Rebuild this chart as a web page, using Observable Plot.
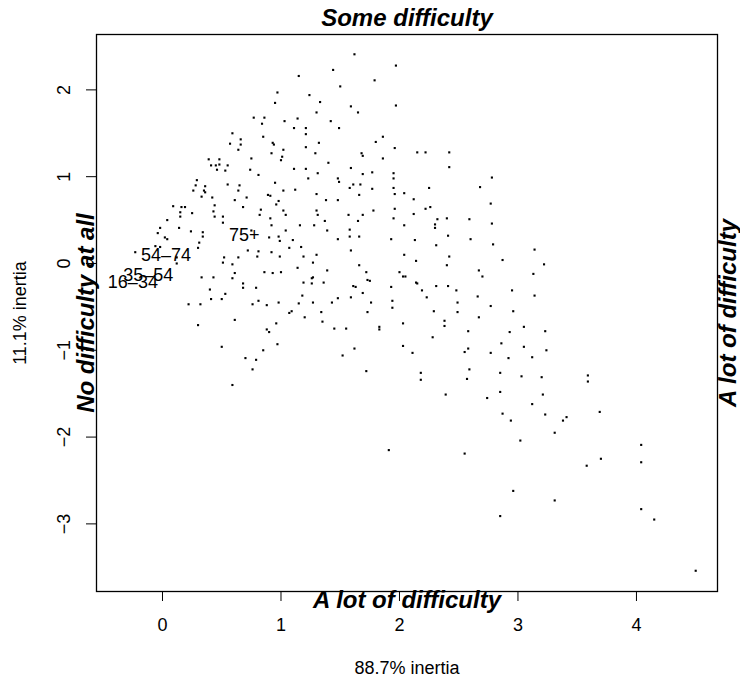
<!DOCTYPE html>
<html><head><meta charset="utf-8">
<script src="https://cdn.jsdelivr.net/npm/d3@7"></script>
<script src="https://cdn.jsdelivr.net/npm/@observablehq/plot@0.6"></script>
<style>
body{margin:0;background:#fff;}
#chart svg{display:block;}
</style></head><body><div id="chart"></div>
<script>
// column (row-profile) points: [dim1, dim2]
const ptsUpperLeft = [[0.97,1.97],[0.95,1.85],[0.77,1.68],[0.86,1.68],[0.84,1.61],[1.03,1.64],[1.11,1.56],[0.59,1.50],[0.85,1.46],[0.66,1.43],[0.57,1.38],[0.66,1.37],[0.93,1.39],[0.94,1.37],[0.64,1.31],[1.02,1.31],[0.92,1.27],[1.01,1.23],[1.00,1.19],[0.75,1.21],[0.39,1.20],[0.48,1.20],[0.41,1.13],[0.45,1.13],[0.48,1.14],[0.55,1.13],[0.46,1.08],[0.53,1.07],[0.74,1.08],[1.11,1.09],[0.81,1.02],[0.29,0.96],[0.28,0.90],[0.36,0.89],[0.55,0.91],[0.65,0.90],[0.95,0.93],[0.26,0.84],[0.35,0.84],[0.36,0.82],[0.64,0.84],[1.02,0.84],[1.12,0.85],[0.33,0.77],[0.42,0.76],[0.89,0.79],[0.91,0.78],[0.71,0.76],[0.61,0.73],[0.98,0.72],[0.96,0.68],[0.09,0.66],[0.16,0.65],[0.19,0.65],[0.44,0.67],[0.68,0.65],[0.83,0.62],[1.02,0.61],[0.15,0.59],[0.25,0.58],[0.43,0.60],[0.82,0.56],[1.04,0.56]];
const ptsUpperMid = [[1.62,2.41],[1.97,2.28],[1.44,2.23],[1.15,2.16],[1.79,2.11],[1.50,2.04],[1.24,1.94],[1.33,1.86],[1.59,1.81],[1.97,1.82],[1.30,1.74],[1.65,1.74],[1.14,1.67],[1.42,1.64],[1.21,1.56],[1.49,1.56],[1.21,1.49],[1.86,1.46],[1.80,1.40],[1.32,1.39],[1.21,1.34],[1.96,1.33],[1.29,1.27],[1.68,1.27],[1.69,1.24],[2.15,1.28],[2.22,1.28],[2.42,1.28],[1.86,1.21],[1.40,1.16],[1.21,1.09],[1.59,1.10],[2.42,1.11],[1.31,1.04],[1.69,1.03],[1.77,1.05],[1.95,1.04],[2.78,0.99],[1.23,0.98],[1.48,0.98],[1.95,0.98],[1.49,0.94],[1.61,0.91],[1.67,0.91],[1.58,0.87],[1.77,0.86],[1.95,0.87],[2.25,0.87],[2.68,0.88],[1.30,0.80],[1.66,0.79],[1.96,0.80],[2.04,0.81],[1.38,0.73],[1.48,0.73],[2.12,0.74],[2.77,0.69],[1.30,0.61],[1.78,0.61],[1.96,0.63],[2.22,0.63],[2.26,0.65],[1.31,0.56],[1.57,0.56],[1.69,0.56],[2.12,0.57]];
const ptsLowerLeft = [[0.04,0.50],[0.15,0.54],[0.44,0.54],[0.51,0.54],[0.51,0.47],[0.91,0.52],[-0.02,0.41],[0.14,0.41],[0.24,0.37],[0.34,0.36],[-0.04,0.35],[0.02,0.30],[0.04,0.28],[0.34,0.31],[0.31,0.24],[0.30,0.18],[-0.06,0.20],[-0.02,0.19],[-0.23,0.13],[0.12,0.07],[0.12,0.00],[0.75,0.38],[0.92,0.44],[1.04,0.38],[0.98,0.31],[0.99,0.26],[1.10,0.27],[0.90,0.30],[1.07,0.18],[0.72,0.15],[0.81,0.14],[0.92,0.13],[0.80,0.08],[0.99,0.08],[0.52,0.07],[0.64,0.07],[0.51,0.01],[0.59,-0.01],[0.86,-0.10],[0.93,-0.11],[1.00,-0.10],[0.61,-0.11],[0.59,-0.17],[0.33,-0.16],[0.43,-0.16],[0.68,-0.23],[0.68,-0.28],[0.79,-0.28],[0.40,-0.30],[0.53,-0.35],[0.41,-0.41],[0.50,-0.41],[0.81,-0.43],[0.76,-0.47],[0.88,-0.48],[0.98,-0.45],[0.22,-0.47],[0.32,-0.47],[1.07,-0.57],[1.09,-0.55],[0.61,-0.65],[0.96,-0.69],[0.30,-0.71],[0.88,-0.76],[0.90,-0.79],[0.97,-0.93],[0.50,-0.96],[0.85,-1.00],[0.70,-1.09],[0.79,-1.11],[0.76,-1.22],[0.59,-1.40]];
const ptsLowerMid = [[1.37,0.49],[1.65,0.49],[1.16,0.44],[1.28,0.44],[1.39,0.38],[1.58,0.39],[1.95,0.52],[2.04,0.44],[2.32,0.51],[2.40,0.52],[2.30,0.45],[2.30,0.41],[2.59,0.51],[2.78,0.46],[1.48,0.28],[1.58,0.31],[1.66,0.31],[1.93,0.28],[2.13,0.27],[2.41,0.32],[2.60,0.28],[2.31,0.21],[2.79,0.22],[1.17,0.19],[1.59,0.15],[1.19,0.08],[1.30,0.10],[1.27,0.01],[2.04,0.10],[2.42,0.08],[2.14,0.03],[2.40,-0.02],[1.14,-0.05],[1.39,-0.08],[1.66,-0.02],[1.72,-0.10],[2.00,-0.10],[2.03,-0.15],[2.05,-0.15],[2.67,-0.08],[2.70,-0.15],[1.27,-0.16],[1.26,-0.17],[1.19,-0.22],[1.26,-0.23],[1.36,-0.22],[1.61,-0.26],[1.63,-0.27],[1.73,-0.19],[1.75,-0.20],[1.93,-0.27],[2.14,-0.22],[2.15,-0.23],[2.31,-0.26],[2.41,-0.26],[2.48,-0.31],[1.69,-0.34],[2.19,-0.31],[2.23,-0.39],[1.59,-0.39],[1.48,-0.40],[1.18,-0.37],[1.15,-0.46],[1.27,-0.45],[1.43,-0.45],[1.76,-0.45],[1.94,-0.43],[2.49,-0.45],[2.66,-0.38],[2.77,-0.49],[1.94,-0.51],[1.34,-0.56],[1.73,-0.56],[2.29,-0.55],[2.49,-0.56],[2.67,-0.62],[1.20,-0.62],[1.35,-0.67],[2.38,-0.66],[2.38,-0.72],[2.03,-0.69],[1.45,-0.75],[1.55,-0.75],[1.83,-0.73],[1.83,-0.76],[2.58,-0.78],[2.28,-0.85],[1.62,-0.98],[2.03,-0.95],[1.52,-1.06],[2.11,-1.03],[2.55,-1.02],[2.58,-0.98],[2.77,-1.03],[1.72,-1.24],[2.18,-1.26],[2.59,-1.22],[2.18,-1.34],[2.57,-1.33],[2.39,-1.51]];
const ptsRight = [[3.14,0.16],[2.87,0.04],[3.22,-0.01],[3.13,-0.12],[2.95,-0.31],[3.14,-0.37],[2.96,-0.55],[3.05,-0.73],[2.93,-0.79],[3.23,-0.78],[2.86,-0.92],[3.05,-0.96],[3.24,-1.00],[2.92,-1.09],[3.12,-1.08],[2.85,-1.26],[3.03,-1.30],[3.20,-1.31],[3.59,-1.29],[3.59,-1.36],[2.85,-1.48],[3.21,-1.51]];
const ptsBottom = [[2.74,-1.55],[3.12,-1.62],[2.87,-1.73],[2.94,-1.81],[3.23,-1.74],[3.38,-1.81],[3.41,-1.77],[3.69,-1.71],[3.31,-1.95],[3.02,-2.04],[4.04,-2.09],[1.91,-2.15],[2.55,-2.19],[3.58,-2.33],[3.70,-2.25],[4.04,-2.29],[2.96,-2.62],[3.31,-2.73],[2.85,-2.91],[4.04,-2.83],[4.15,-2.95],[4.50,-3.54]];

// age-group (row) labels
const groupNames = ["16\u201334", "35\u201354", "54\u201374", "75+"];
const groupX = [-0.25, -0.12, 0.03, 0.69];
const groupY = [-0.22, -0.14, 0.09, 0.32];

// axis ticks and titles
const xTicks = [0, 1, 2, 3, 4];
const yTicks = [-3, -2, -1, 0, 1, 2];
const xTitle = "88.7% inertia";
const yTitle = "11.1% inertia";
const topLabel = "Some difficulty";
const bottomLabel = "A lot of difficulty";
const leftLabel = "No difficulty at all";
const rightLabel = "A lot of difficulty";

const points = [...ptsUpperLeft, ...ptsUpperMid, ...ptsLowerLeft, ...ptsLowerMid, ...ptsRight, ...ptsBottom];
const groups = groupNames.map((name, i) => ({name, x: groupX[i], y: groupY[i]}));
const fmt = d => d < 0 ? "\u2212" + Math.abs(d) : String(d);

const centered = {textAnchor: "middle", lineAnchor: "middle", fill: "black"};
const boldItalic = {...centered, fontSize: 24, fontWeight: "bold", fontStyle: "italic"};
const plain = {...centered, fontSize: 18};

const chart = Plot.plot({
  width: 740,
  height: 677,
  marginLeft: 96,
  marginRight: 23,
  marginTop: 34,
  marginBottom: 86,
  style: {fontFamily: "'Liberation Sans', Arial, Helvetica, sans-serif", fontSize: "18px", background: "white", color: "black"},
  x: {domain: [-0.557, 4.684]},
  y: {domain: [-3.779, 2.638]},
  marks: [
    Plot.dot(points, {x: d => d[0], y: d => d[1], r: 1.2, symbol: "square", fill: "black", stroke: "none"}),
    Plot.text(groups, {x: "x", y: "y", text: "name", ...plain}),
    Plot.text([topLabel], {frameAnchor: "top", dy: -16, text: d => d, ...boldItalic}),
    Plot.text([bottomLabel], {frameAnchor: "bottom", dy: 9, text: d => d, ...boldItalic}),
    Plot.text([leftLabel], {frameAnchor: "left", dx: -10, rotate: -90, text: d => d, ...boldItalic}),
    Plot.text([rightLabel], {frameAnchor: "right", dx: 11, rotate: -90, text: d => d, ...boldItalic}),
    Plot.axisX(xTicks, {tickSize: 10, tickFormat: () => "", label: null, stroke: "black"}),
    Plot.axisY(yTicks, {tickSize: 10, tickFormat: () => "", label: null, stroke: "black"}),
    Plot.text(xTicks, {x: d => d, frameAnchor: "bottom", dy: 34, text: fmt, ...plain}),
    Plot.text(yTicks, {y: d => d, frameAnchor: "left", dx: -32, rotate: -90, text: fmt, ...plain}),
    Plot.text([xTitle], {frameAnchor: "bottom", dy: 77, text: d => d, ...plain}),
    Plot.text([yTitle], {frameAnchor: "left", dx: -76, rotate: -90, text: d => d, ...plain}),
    Plot.frame({stroke: "black", strokeWidth: 1.3})
  ]
});
document.getElementById("chart").appendChild(chart);
</script>
</body></html>
